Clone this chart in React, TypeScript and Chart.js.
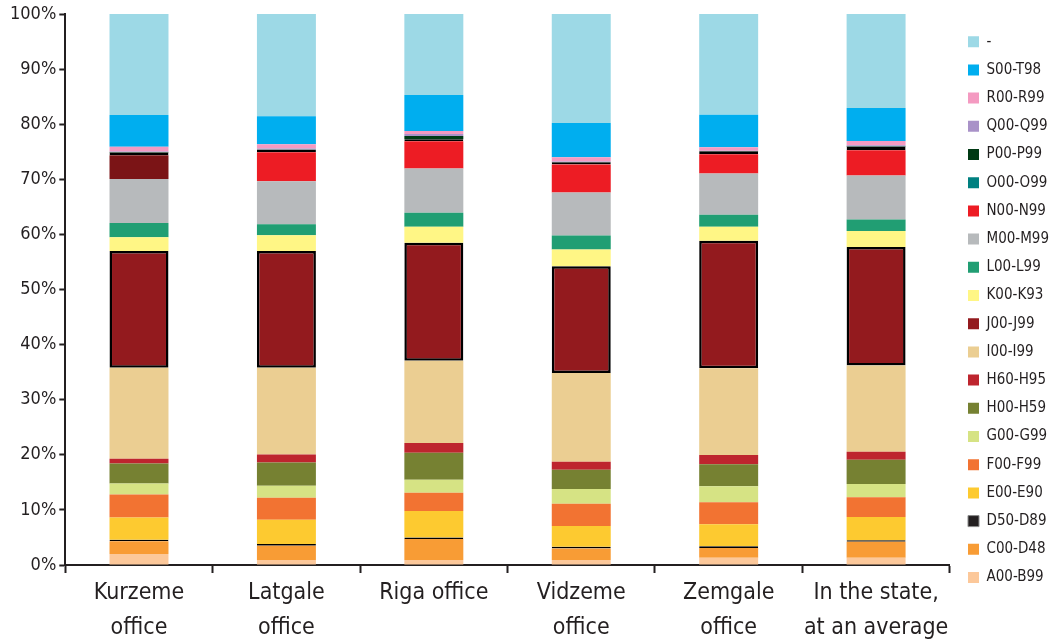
import React, { useEffect, useRef } from 'react';
import { Chart, registerables } from 'chart.js';

Chart.register(...registerables);

const categories: (string | string[])[] = [
  ['Kurzeme', 'office'],
  ['Latgale', 'office'],
  'Riga office',
  ['Vidzeme', 'office'],
  ['Zemgale', 'office'],
  ['In the state,', 'at an average'],
];

const yTickValues = [0, 10, 20, 30, 40, 50, 60, 70, 80, 90, 100];

const seriesLabels = [
  'A00-B99', 'C00-D48', 'D50-D89', 'E00-E90', 'F00-F99', 'G00-G99', 'H00-H59', 'H60-H95',
  'I00-I99', 'J00-J99', 'K00-K93', 'L00-L99', 'M00-M99', 'N00-N99', 'O00-O99', 'P00-P99',
  'Q00-Q99', 'R00-R99', 'S00-T98', '-',
];

const valuesA = [2.0, 0.9, 0.9, 0.9, 1.3, 1.3];
const valuesC = [2.3, 2.6, 3.8, 2.1, 1.8, 2.9];
const valuesD50 = [0.3, 0.3, 0.3, 0.3, 0.3, 0.3];
const valuesE = [4.0, 4.4, 4.8, 3.8, 4.0, 4.2];
const valuesF = [4.2, 4.0, 3.3, 4.0, 4.0, 3.6];
const valuesG = [2.0, 2.2, 2.35, 2.7, 2.9, 2.4];
const valuesH00 = [3.6, 4.2, 4.9, 3.5, 4.0, 4.4];
const valuesH60 = [0.9, 1.45, 1.8, 1.45, 1.65, 1.45];
const valuesI = [16.5, 15.75, 14.9, 16.1, 15.75, 15.65];
const valuesJ = [21.2, 21.2, 21.45, 19.35, 23.15, 21.5];
const valuesK = [2.5, 2.85, 2.9, 3.05, 2.55, 2.9];
const valuesL = [2.55, 2.0, 2.55, 2.55, 2.15, 2.1];
const valuesM = [8.0, 7.8, 8.0, 7.8, 7.5, 8.0];
const valuesN = [4.3, 5.25, 4.95, 5.1, 3.5, 4.55];
const valuesO = [0.5, 0.45, 0.35, 0.4, 0.55, 0.6];
const valuesP = [0.1, 0.05, 0.6, 0.05, 0.05, 0.1];
const valuesQ = [0.1, 0.2, 0.36, 0.1, 0.05, 0.25];
const valuesR = [0.85, 0.75, 0.55, 0.75, 0.6, 0.75];
const valuesS = [5.75, 5.1, 6.55, 6.2, 5.9, 6.0];
const valuesDash = [18.35, 18.55, 14.7, 19.8, 18.3, 17.05];

const seriesValues = [
  valuesA, valuesC, valuesD50, valuesE, valuesF, valuesG, valuesH00, valuesH60,
  valuesI, valuesJ, valuesK, valuesL, valuesM, valuesN, valuesO, valuesP,
  valuesQ, valuesR, valuesS, valuesDash,
];

const seriesColors = [
  '#FCC89A', '#F89C35', '#231F20', '#FDCA30', '#F27332', '#D6E384', '#768132', '#BE252E',
  '#EBCE92', '#931A1E', '#FFF685', '#219E73', '#B7BABC', '#ED1C24', '#008080', '#003A14',
  '#A992C8', '#F49AC1', '#00AEEF', '#9DD9E6',
];

// N00-N99 is drawn darker in the first bar of the original
const nFirstBarColor = '#7B1416';

const axisFont = "'DejaVu Sans Condensed', 'Liberation Sans Narrow', 'Liberation Sans', sans-serif";
const legendFont = "'DejaVu Sans Condensed', 'Liberation Sans', sans-serif";
const ink = '#231F20';

export default function App() {
  const canvasRef = useRef<HTMLCanvasElement | null>(null);

  useEffect(() => {
    if (!canvasRef.current) return;
    const datasets = seriesLabels.map((label, i) => {
      const base: any = {
        label,
        data: seriesValues[i],
        backgroundColor: seriesColors[i],
        borderWidth: 0,
        borderSkipped: false,
        categoryPercentage: 1.0,
        barPercentage: 0.4,
        yAxisID: 'y',
      };
      if (label === 'J00-J99') {
        base.borderColor = '#000000';
        base.borderWidth = 2.5;
      }
      if (label === 'O00-O99') {
        base.borderColor = '#000000';
        base.borderWidth = 2;
      }
      if (label === 'D50-D89') {
        base.borderColor = '#000000';
        base.borderWidth = 1;
      }
      if (label === 'N00-N99') {
        base.backgroundColor = (ctx: any) =>
          ctx.dataIndex === 0 ? nFirstBarColor : seriesColors[i];
      }
      return base;
    });

    const chart = new Chart(canvasRef.current, {
      type: 'bar',
      data: { labels: categories as any, datasets },
      options: {
        animation: false,
        responsive: true,
        maintainAspectRatio: false,
        layout: { padding: { top: 14, left: 7, right: -4, bottom: 0 } },
        plugins: {
          tooltip: { enabled: false },
          legend: {
            position: 'right',
            reverse: true,
            align: 'start',
            title: {
              display: true,
              text: ' ',
              color: 'rgba(0,0,0,0)',
              font: { size: 5, lineHeight: 1 },
              padding: { top: 1, bottom: 1 },
            },
            labels: {
              boxWidth: 11,
              boxHeight: 11,
              padding: 13.2,
              color: ink,
              font: { family: legendFont, size: 15, lineHeight: 1 },
              generateLabels: (c: any) => {
                const items = Chart.defaults.plugins.legend.labels.generateLabels(c);
                return items.map((it: any) => {
                  const idx = it.datasetIndex;
                  const lbl = seriesLabels[idx];
                  it.fillStyle = seriesColors[idx];
                  if (lbl === 'D50-D89') {
                    it.strokeStyle = '#8A8A8A';
                    it.lineWidth = 1;
                  } else {
                    it.lineWidth = 0;
                    it.strokeStyle = seriesColors[idx];
                  }
                  return it;
                });
              },
            },
          },
        },
        scales: {
          x: {
            stacked: true,
            offset: true,
            grid: {
              display: true,
              offset: true,
              drawOnChartArea: false,
              drawTicks: true,
              tickLength: 8,
              tickColor: ink,
              tickWidth: 2,
            },
            border: { display: true, color: ink, width: 2 },
            ticks: {
              color: ink,
              padding: 3,
              maxRotation: 0,
              autoSkip: false,
              font: { family: axisFont, size: 23, lineHeight: 1.5217 },
            },
          },
          y: {
            stacked: true,
            min: 0,
            max: 100,
            afterBuildTicks: (axis: any) => {
              axis.ticks = yTickValues.map((v) => ({ value: v }));
            },
            grid: {
              display: true,
              drawOnChartArea: false,
              drawTicks: true,
              tickLength: 6,
              tickColor: ink,
              tickWidth: 2,
            },
            border: { display: true, color: ink, width: 2 },
            ticks: {
              color: ink,
              padding: 3,
              font: { family: axisFont, size: 18, lineHeight: 1 },
              callback: (v: any) => `${v}%`,
            },
          },
          gap: {
            type: 'linear',
            position: 'right',
            display: true,
            min: 0,
            max: 100,
            grid: { display: false, drawTicks: false },
            border: { display: false },
            ticks: { display: false },
            afterFit: (s: any) => {
              s.width = 5;
            },
          },
        },
      },
    });
    return () => chart.destroy();
  }, []);

  return (
    <div style={{ position: 'absolute', left: 0, top: 0, width: 1055, height: 641, overflow: 'hidden', background: '#fff' }}>
      <div style={{ position: 'relative', width: 1055, height: 649 }}>
        <canvas ref={canvasRef} />
      </div>
    </div>
  );
}
